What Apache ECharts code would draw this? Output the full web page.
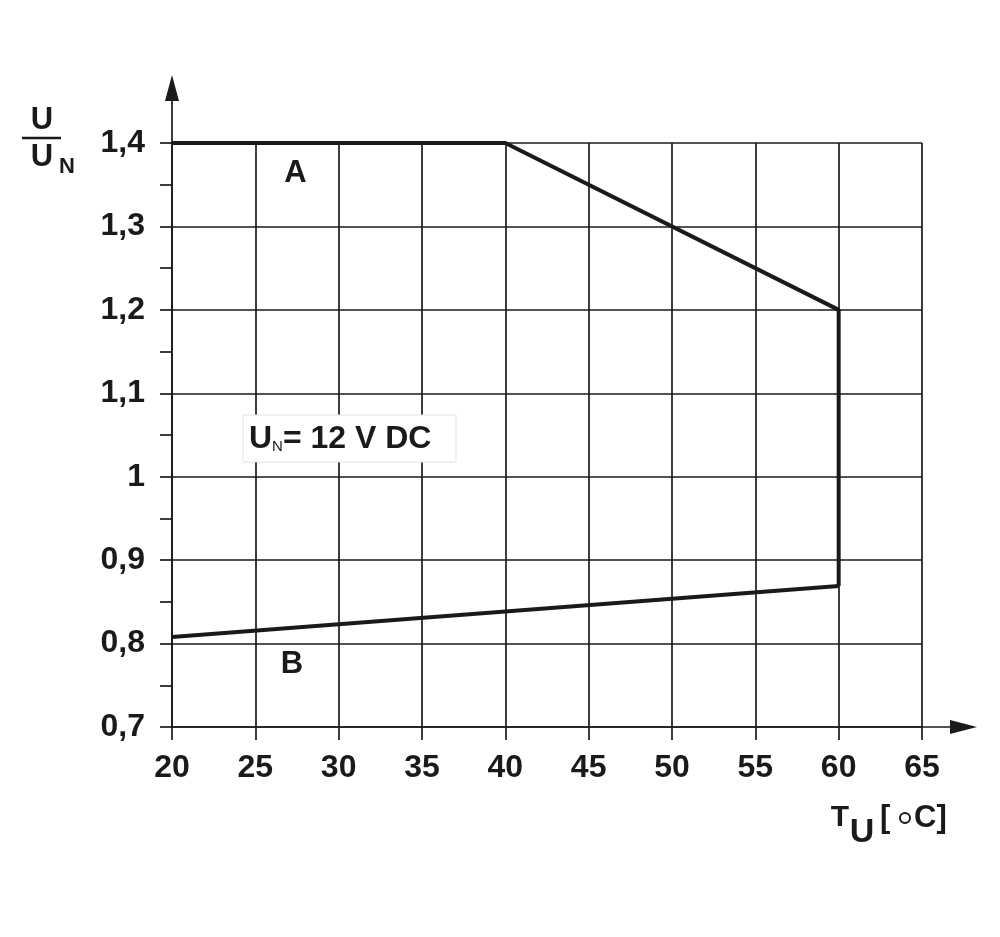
<!DOCTYPE html>
<html>
<head>
<meta charset="utf-8">
<script src="https://cdn.jsdelivr.net/npm/echarts@6/dist/echarts.min.js"></script>
<style>
  html, body { margin: 0; padding: 0; background: #fff; }
  #chart { width: 1000px; height: 937px; }
</style>
</head>
<body>
<div id="chart"></div>
<script>
// curve A: upper limit, curve B: lower limit (temperature, U/UN)
var curveA = [[20, 1.4], [40, 1.4], [60, 1.2], [60, 0.869]];
var curveB = [[20, 0.808], [60, 0.869]];
var xTicks = [20, 25, 30, 35, 40, 45, 50, 55, 60, 65];
var yTicks = [0.7, 0.8, 0.9, 1.0, 1.1, 1.2, 1.3, 1.4];

var font = 'Liberation Sans, Arial, sans-serif';
var ink = '#1a1a1a';

var chart = echarts.init(document.getElementById('chart'));

var option = {
    animation: false,
    backgroundColor: '#fff',
    grid: { left: 172, right: 78, top: 143, bottom: 210 },
    xAxis: {
        type: 'value',
        min: xTicks[0],
        max: xTicks[xTicks.length - 1],
        interval: 5,
        axisLine: { show: true, onZero: false, lineStyle: { color: ink, width: 1.7 } },
        axisTick: { show: true, length: 13, lineStyle: { color: ink, width: 1.7 } },
        splitLine: { show: true, lineStyle: { color: ink, width: 1.7 } },
        axisLabel: {
            margin: 25, color: ink, fontSize: 32, fontWeight: 'bold', fontFamily: font
        }
    },
    yAxis: {
        type: 'value',
        min: yTicks[0],
        max: yTicks[yTicks.length - 1],
        interval: 0.1,
        axisLine: { show: true, onZero: false, lineStyle: { color: ink, width: 1.7 } },
        axisTick: { show: true, length: 12, lineStyle: { color: ink, width: 1.7 } },
        minorTick: { show: true, splitNumber: 2, length: 12, lineStyle: { color: ink, width: 1.7 } },
        splitLine: { show: true, lineStyle: { color: ink, width: 1.7 } },
        axisLabel: {
            margin: 27, color: ink, fontSize: 32, fontWeight: 'bold', fontFamily: font,
            formatter: function (v) {
                var s = (Math.round(v * 10) / 10).toString();
                return s.replace('.', ',');
            }
        }
    },
    series: [
        {
            name: 'A',
            type: 'line',
            data: curveA,
            symbol: 'none',
            lineStyle: { color: ink, width: 4 },
            z: 5
        },
        {
            name: 'B',
            type: 'line',
            data: curveB,
            symbol: 'none',
            lineStyle: { color: ink, width: 4 },
            z: 5
        }
    ]
};

chart.setOption(option);

// 坐标轴箭头和标注
var origin = chart.convertToPixel({ gridIndex: 0 }, [20, 0.7]);
var topLeft = chart.convertToPixel({ gridIndex: 0 }, [20, 1.4]);
var rightEnd = chart.convertToPixel({ gridIndex: 0 }, [65, 0.7]);
var pA = chart.convertToPixel({ gridIndex: 0 }, [27.4, 1.363]);
var pB = chart.convertToPixel({ gridIndex: 0 }, [27.2, 0.775]);

chart.setOption({
    graphic: [
        // y axis extension + arrow
        { type: 'line', shape: { x1: origin[0], y1: topLeft[1], x2: origin[0], y2: 95 },
          style: { stroke: ink, lineWidth: 1.7 } },
        { type: 'polygon', shape: { points: [[origin[0], 75], [origin[0] - 7, 101], [origin[0] + 7, 101]] },
          style: { fill: ink } },
        // x axis extension + arrow
        { type: 'line', shape: { x1: rightEnd[0], y1: origin[1], x2: 955, y2: origin[1] },
          style: { stroke: ink, lineWidth: 1.7 } },
        { type: 'polygon', shape: { points: [[977, origin[1]], [950, origin[1] - 7], [950, origin[1] + 7]] },
          style: { fill: ink } },
        // curve labels
        { type: 'text', x: pA[0], y: pA[1], style: { text: 'A', fill: ink, font: 'bold 31px ' + font, align: 'center', verticalAlign: 'middle' }, z: 10 },
        { type: 'text', x: pB[0], y: pB[1], style: { text: 'B', fill: ink, font: 'bold 31px ' + font, align: 'center', verticalAlign: 'middle' }, z: 10 },
        // nominal voltage box
        { type: 'rect', shape: { x: 243, y: 415, width: 213, height: 47 },
          style: { fill: '#fff', stroke: '#e2e2e2', lineWidth: 1 }, z: 10 },
        { type: 'text', x: 249, y: 439, z: 11,
          style: {
              text: '{u|U}{n|N}{u|= 12 V DC}',
              verticalAlign: 'middle',
              rich: {
                  u: { fill: ink, fontSize: 32, fontWeight: 'bold', fontFamily: font },
                  n: { fill: ink, fontSize: 15, fontFamily: font, padding: [16, 0, 0, 0] }
              }
          } },
        // y axis name: U / U_N
        { type: 'text', x: 42, y: 120, style: { text: 'U', fill: ink, font: 'bold 31px ' + font, align: 'center', verticalAlign: 'middle' } },
        { type: 'line', shape: { x1: 22, y1: 138, x2: 61, y2: 138 }, style: { stroke: ink, lineWidth: 2.5 } },
        { type: 'text', x: 42, y: 157, style: { text: 'U', fill: ink, font: 'bold 31px ' + font, align: 'center', verticalAlign: 'middle' } },
        { type: 'text', x: 67, y: 167, style: { text: 'N', fill: ink, font: 'bold 22px ' + font, align: 'center', verticalAlign: 'middle' } },
        // x axis name: T_U [ °C]
        { type: 'text', x: 840, y: 818, style: { text: 'T', fill: ink, font: 'bold 30px ' + font, align: 'center', verticalAlign: 'middle' } },
        { type: 'text', x: 862, y: 833, style: { text: 'U', fill: ink, font: 'bold 34px ' + font, align: 'center', verticalAlign: 'middle' } },
        { type: 'text', x: 880, y: 818, style: { text: '[', fill: ink, font: 'bold 31px ' + font, verticalAlign: 'middle' } },
        { type: 'circle', shape: { cx: 905, cy: 818, r: 5 }, style: { fill: 'none', stroke: ink, lineWidth: 2 } },
        { type: 'text', x: 914, y: 818, style: { text: 'C]', fill: ink, font: 'bold 31px ' + font, verticalAlign: 'middle' } }
    ]
});

window.addEventListener('resize', function () {
    chart.resize();
});
</script>
</body>
</html>
